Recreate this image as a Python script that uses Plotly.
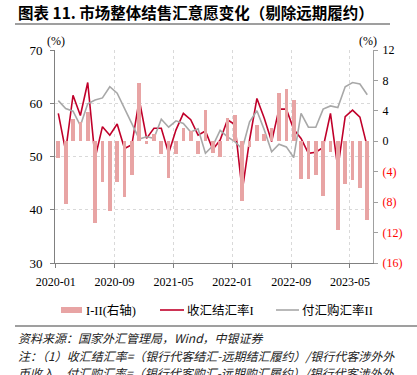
import plotly.graph_objects as go

months = ["2020-01","2020-02","2020-03","2020-04","2020-05","2020-06","2020-07","2020-08","2020-09","2020-10","2020-11","2020-12",
          "2021-01","2021-02","2021-03","2021-04","2021-05","2021-06","2021-07","2021-08","2021-09","2021-10","2021-11","2021-12",
          "2022-01","2022-02","2022-03","2022-04","2022-05","2022-06","2022-07","2022-08","2022-09","2022-10","2022-11","2022-12",
          "2023-01","2023-02","2023-03","2023-04","2023-05","2023-06","2023-07"]
diff_I_II = [-2.2, -8.2, 2.9, 2.5, 3.8, -10.8, -5.3, -9.2, -5.4, -7.3, -4.4, 7.7, -0.3, 1.0, -1.7, -4.8, -1.7, 1.8, 1.3, -1.7,
             4.1, -1.5, -2.0, 3.0, 3.5, -7.8, -0.8, 2.2, 1.0, 1.7, 6.3, 6.9, 5.4, -4.9, -5.0, -4.4, -7.2, -1.4, -11.7, -5.6,
             -5.1, -6.2, -10.4]
rate_I = [58.1, 51.0, 61.5, 57.7, 63.9, 49.7, 55.6, 54.0, 56.1, 51.5, 52.2, 60.7, 53.4, 55.3, 55.3, 50.6, 55.0, 58.1, 56.9, 54.0,
          54.8, 51.3, 53.1, 56.9, 56.0, 43.5, 53.1, 60.9, 57.2, 52.8, 58.9, 58.9, 55.1, 53.4, 50.6, 50.8, 51.7, 58.1, 47.8, 57.5,
          58.7, 57.4, 51.8]
rate_II = [60.5, 59.0, 58.5, 55.8, 59.9, 60.6, 61.0, 63.1, 61.9, 59.0, 56.4, 53.3, 53.7, 53.4, 57.0, 55.5, 56.7, 56.2, 54.6, 55.2,
           50.6, 52.0, 54.9, 53.7, 52.8, 51.4, 56.5, 58.6, 55.0, 50.9, 52.3, 51.8, 49.8, 58.1, 55.5, 55.5, 58.9, 59.5, 59.2, 63.1,
           63.9, 63.6, 61.6]
series_names = ["I-II(右轴)", "收汇结汇率I", "付汇购汇率II"]
x_tick_labels = ["2020-01", "2020-09", "2021-05", "2022-01", "2022-09", "2023-05"]
left_ticks = [30, 40, 50, 60, 70]
right_ticks = [12, 8, 4, 0, -4, -8, -12, -16]

W, H = 417, 375
L, R, T, B = 55, 44, 50, 112
PW, PH = W - L - R, H - T - B
def px_x(p): return (p - L) / PW
def px_y(p): return (H - B - p) / PH

BAR_C, RED_C, GRAY_C = "#E8A4A4", "#C0002A", "#A8A8A8"

xs = list(range(len(months)))
tickvals = [months.index(t) - 0.35 for t in x_tick_labels]

def rlabel(v):
    if v < 0:
        return "<span style='color:#FF0000'>(%d)</span>" % (-v)
    return str(v)

serif = "Liberation Serif, Times New Roman, Noto Sans CJK SC, serif"
cjk = "Noto Sans CJK SC, sans-serif"

fig = go.Figure()
fig.add_trace(go.Bar(x=xs, y=diff_I_II, yaxis="y2", name=series_names[0], marker=dict(color=BAR_C, line_width=0),
                     width=0.5))
fig.add_trace(go.Scatter(x=xs, y=rate_I, mode="lines", name=series_names[1], line=dict(color=RED_C, width=1.6)))
fig.add_trace(go.Scatter(x=xs, y=rate_II, mode="lines", name=series_names[2], line=dict(color=GRAY_C, width=1.6)))

fig.update_layout(
    width=W, height=H, margin=dict(l=L, r=R, t=T, b=B, autoexpand=False),
    paper_bgcolor="white", plot_bgcolor="white",
    font=dict(family=serif, size=12, color="black"),
    showlegend=False, bargap=0,
    xaxis=dict(range=[-0.45, 42.78], tickvals=tickvals, ticktext=x_tick_labels, showline=True, linecolor="#808080",
               linewidth=1, ticks="outside", ticklen=4, tickcolor="#808080", showgrid=True, gridcolor="#D9D9D9",
               griddash="dot", gridwidth=1, zeroline=False, tickfont=dict(family=serif, size=12), ticklabelstandoff=4),
    yaxis=dict(range=[30, 70], tickvals=left_ticks, showline=True, linecolor="#808080", linewidth=1, ticks="outside",
               ticklen=4, tickcolor="#808080", showgrid=True, gridcolor="#D9D9D9", griddash="dot", gridwidth=1,
               zeroline=False, tickfont=dict(family=serif, size=13), ticklabelstandoff=5),
    yaxis2=dict(range=[-16, 12], overlaying="y", side="right", tickvals=right_ticks,
                ticktext=[rlabel(v) for v in right_ticks], showline=True, linecolor="#A0A0A0", linewidth=1,
                ticks="outside", ticklen=4, tickcolor="#A0A0A0", showgrid=False, zeroline=False,
                tickfont=dict(family=serif, size=12), ticklabelstandoff=2),
)

LEG_Y = 310
ann = [
    dict(text="<b>图表 11. 市场整体结售汇意愿变化（剔除远期履约）</b>", x=px_x(17), y=px_y(12), xanchor="left",
         yanchor="middle", font=dict(family=cjk, size=15.5, color="black")),
    dict(text="(%)", x=px_x(56), y=px_y(41), xanchor="center", yanchor="middle", font=dict(family=serif, size=12)),
    dict(text="(%)", x=px_x(368), y=px_y(41), xanchor="center", yanchor="middle", font=dict(family=serif, size=12)),
    # legend labels
    dict(text=series_names[0], x=px_x(85), y=px_y(LEG_Y), xanchor="left", yanchor="middle",
         font=dict(family=serif, size=12.5)),
    dict(text=series_names[1], x=px_x(186), y=px_y(LEG_Y), xanchor="left", yanchor="middle",
         font=dict(family=serif, size=12.5)),
    dict(text=series_names[2], x=px_x(301), y=px_y(LEG_Y), xanchor="left", yanchor="middle",
         font=dict(family=serif, size=12.5)),
    # source notes
    dict(text="<i>资料来源：国家外汇管理局，Wind，中银证券</i>", x=px_x(17), y=px_y(337), xanchor="left",
         yanchor="middle", font=dict(family=cjk, size=12, color="#222222")),
    dict(text="<i>注：（1）收汇结汇率=（银行代客结汇-远期结汇履约）/银行代客涉外外</i>", x=px_x(17), y=px_y(355),
         xanchor="left", yanchor="middle", font=dict(family=cjk, size=12, color="#222222")),
    dict(text="<i>币收入，付汇购汇率=（银行代客购汇-远期购汇履约）/银行代客涉外外</i>", x=px_x(17), y=px_y(372),
         xanchor="left", yanchor="middle", font=dict(family=cjk, size=12, color="#222222")),
]
for a in ann:
    a.update(xref="paper", yref="paper", showarrow=False, borderpad=0)
fig.update_layout(annotations=ann)

fig.update_layout(shapes=[
    dict(type="line", xref="paper", yref="paper", x0=px_x(15), x1=px_x(390), y0=px_y(24), y1=px_y(24),
         line=dict(color="#404040", width=1.2)),
    dict(type="line", xref="paper", yref="paper", x0=px_x(15), x1=px_x(417), y0=px_y(326), y1=px_y(326),
         line=dict(color="#404040", width=1.2)),
    # legend symbols
    dict(type="rect", xref="paper", yref="paper", x0=px_x(61), x1=px_x(82), y0=px_y(313), y1=px_y(307),
         fillcolor=BAR_C, line_width=0),
    dict(type="line", xref="paper", yref="paper", x0=px_x(160), x1=px_x(184), y0=px_y(LEG_Y), y1=px_y(LEG_Y),
         line=dict(color=RED_C, width=1.6)),
    dict(type="line", xref="paper", yref="paper", x0=px_x(276), x1=px_x(299), y0=px_y(LEG_Y), y1=px_y(LEG_Y),
         line=dict(color=GRAY_C, width=1.6)),
])

fig.write_html("out.html", config={"displayModeBar": False},
               post_script="document.body.style.margin='0';document.body.style.overflow='hidden';")
